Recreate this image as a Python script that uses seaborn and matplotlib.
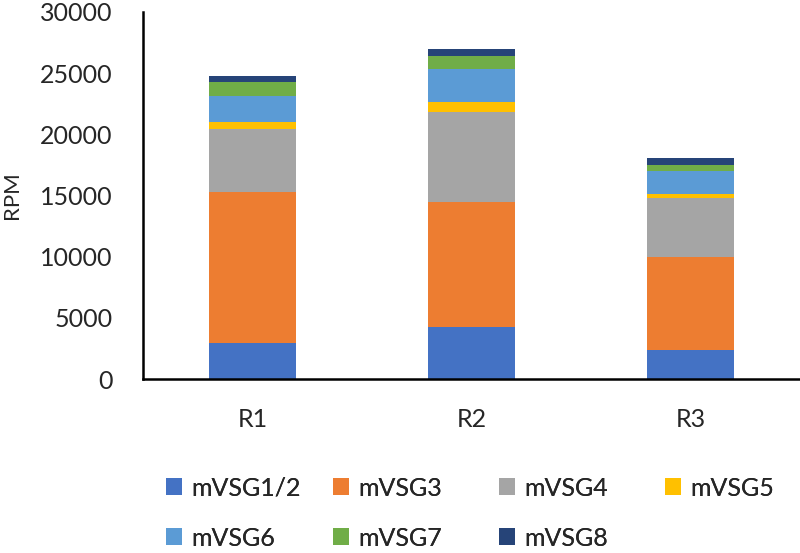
import numpy as np
import pandas as pd
import matplotlib
matplotlib.use('Agg')
import matplotlib.pyplot as plt
import seaborn as sns
from matplotlib.patches import Patch

samples = ['R1', 'R2', 'R3']
series_names = ['mVSG1/2', 'mVSG3', 'mVSG4', 'mVSG5', 'mVSG6', 'mVSG7', 'mVSG8']
colors = ['#4472C4', '#ED7D31', '#A5A5A5', '#FFC000', '#5B9BD5', '#70AD47', '#264478']

vsg12 = [2920, 4280, 2370]
vsg3 = [12400, 10220, 7580]
vsg4 = [5130, 7280, 4860]
vsg5 = [550, 850, 270]
vsg6 = [2150, 2700, 1880]
vsg7 = [1090, 1090, 520]
vsg8 = [545, 550, 540]

sns.set_style('white')
plt.rcParams['font.family'] = ['Lato', 'DejaVu Sans']

df = pd.DataFrame({'mVSG1/2': vsg12, 'mVSG3': vsg3, 'mVSG4': vsg4, 'mVSG5': vsg5,
                   'mVSG6': vsg6, 'mVSG7': vsg7, 'mVSG8': vsg8}, index=samples)
cum = df[series_names].cumsum(axis=1)

fig = plt.figure(figsize=(8, 5.53), dpi=100)
ax = fig.add_axes([0.179, 0.3146, 0.821, 0.664])

# stacked bars: draw the cumulative totals from the top layer down
for name, col in reversed(list(zip(series_names, colors))):
    sns.barplot(x=samples, y=cum[name].values, color=col, width=0.4,
                saturation=1, ax=ax, edgecolor='none', linewidth=0)

ax.set_ylim(0, 30000)
ax.set_xlim(-0.5, 2.5)
ax.set_yticks(range(0, 30001, 5000))
ax.set_ylabel('RPM', fontsize=16, va='center')
ax.yaxis.set_label_coords(-0.2, 0.5)
ax.tick_params(axis='both', labelsize=18, length=0)
ax.tick_params(axis='x', pad=21)
ax.tick_params(axis='y', pad=22)
for s in ['top', 'right']:
    ax.spines[s].set_visible(False)
for s in ['left', 'bottom']:
    ax.spines[s].set_color('black')
    ax.spines[s].set_linewidth(1.8)

# legend laid out on a 4-column grid, like the original
col_x = [166, 333, 499, 665]
row_y = [488, 538]
for i, (name, col) in enumerate(zip(series_names, colors)):
    x = col_x[i % 4] / 800
    y = 1 - row_y[i // 4] / 553
    leg = fig.legend([Patch(facecolor=col, edgecolor='none')], [name], loc='center left',
                     bbox_to_anchor=(x, y), frameon=False, fontsize=18,
                     handlelength=0.64, handleheight=0.64, handletextpad=0.36,
                     borderpad=0, borderaxespad=0)
    fig.add_artist(leg)

fig.savefig('out.png', dpi=100)
